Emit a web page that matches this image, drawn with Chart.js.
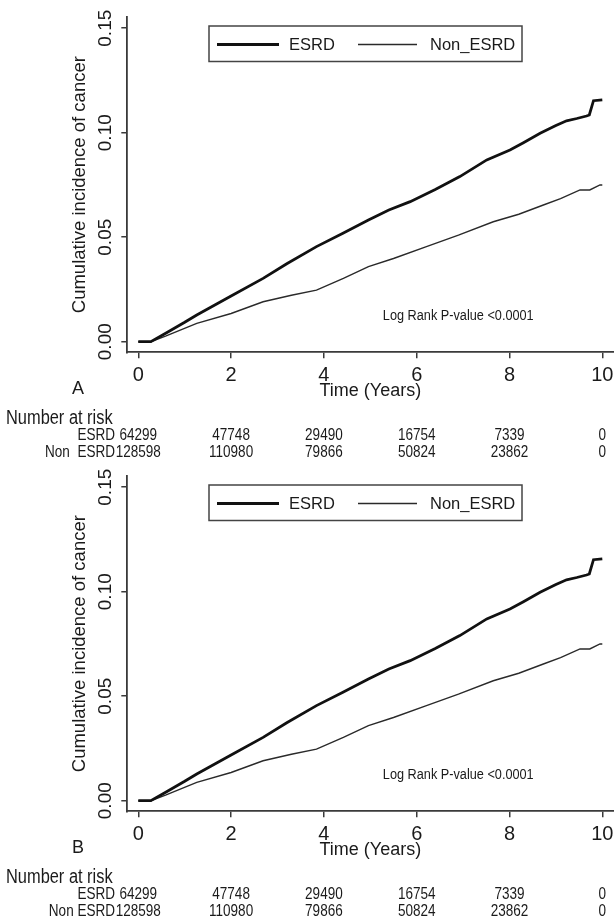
<!DOCTYPE html>
<html>
<head>
<meta charset="utf-8">
<script src="https://cdn.jsdelivr.net/npm/chart.js@4.4.1/dist/chart.umd.min.js"></script>
<style>
  html, body { margin: 0; padding: 0; background: #fff; }
  .panel { position: absolute; left: 0; width: 614px; height: 459px; }
</style>
</head>
<body>
<div class="panel" style="top:0"><canvas id="panelA" width="614" height="459"></canvas></div>
<div class="panel" style="top:459px"><canvas id="panelB" width="614" height="459"></canvas></div>
<script>
// ---- data ----
const esrdTimes  = [0, 0.27, 0.6, 1.0, 1.26, 2.0, 2.69, 3.2, 3.84, 4.4, 4.96, 5.4, 5.86, 6.4, 6.93, 7.51, 8.01, 8.3, 8.66, 9.0, 9.23, 9.45, 9.66, 9.72, 9.81, 10.0];
const esrdValues = [0, 0, 0.0042, 0.0093, 0.0128, 0.0219, 0.0303, 0.0373, 0.0455, 0.0518, 0.0582, 0.063, 0.067, 0.0728, 0.079, 0.087, 0.0917, 0.0952, 0.0997, 0.1034, 0.1057, 0.1068, 0.108, 0.1085, 0.1153, 0.1157];

const nonTimes  = [0, 0.27, 0.6, 1.26, 2.0, 2.69, 3.3, 3.84, 4.42, 4.96, 5.5, 6.21, 6.9, 7.65, 8.2, 8.73, 9.1, 9.52, 9.73, 9.95, 10.0];
const nonValues = [0, 0, 0.0028, 0.0088, 0.0135, 0.0191, 0.0222, 0.0247, 0.0303, 0.0359, 0.0398, 0.0455, 0.051, 0.0574, 0.061, 0.0654, 0.0685, 0.0726, 0.0726, 0.075, 0.075];

const seriesLabels = ['ESRD', 'Non_ESRD'];
const xTicks = [0, 2, 4, 6, 8, 10];
const yTicks = [0, 0.05, 0.10, 0.15];

const riskTimes = [0, 2, 4, 6, 8, 10];
const esrdRisk  = [64299, 47748, 29490, 16754, 7339, 0];
const nonRisk   = [128598, 110980, 79866, 50824, 23862, 0];
const riskLabelsA = ['ESRD', 'Non_ESRD'];
const riskLabelsB = ['ESRD', 'Non ESRD'];

const pValueText = 'Log Rank P-value <0.0001';

// ---- styling ----
const REGULAR = "'Liberation Sans', Arial, sans-serif";
const INK  = '#1a1a1a';
const AXIS = '#3a3a3a';

const toPoints = (xs, ys) => xs.map((t, i) => ({ x: t, y: ys[i] }));

// arial-narrow look: squeeze regular text horizontally
function narrowText(ctx, text, x, y, align, size) {
  ctx.save();
  ctx.translate(x, y);
  ctx.scale(0.82, 1);
  ctx.font = size + 'px ' + REGULAR;
  ctx.textAlign = align;
  ctx.textBaseline = 'middle';
  ctx.fillStyle = INK;
  ctx.fillText(text, 0, 0);
  ctx.restore();
}

// legend box, panel letter, p-value and number-at-risk table
const extrasPlugin = {
  id: 'extras',
  afterDraw(chart, args, opts) {
    const ctx = chart.ctx;
    const sx = chart.scales.x, sy = chart.scales.y;
    ctx.save();

    // legend
    ctx.strokeStyle = '#444';
    ctx.lineWidth = 1.5;
    ctx.strokeRect(209, 26, 313, 35.5);
    const sampleX = [[217, 279], [358, 417]];
    const textX = [289, 430];
    ctx.font = '16.5px ' + REGULAR;
    ctx.textBaseline = 'middle';
    ctx.textAlign = 'left';
    chart.data.datasets.forEach((ds, i) => {
      ctx.strokeStyle = ds.borderColor;
      ctx.lineWidth = ds.borderWidth;
      ctx.beginPath();
      ctx.moveTo(sampleX[i][0], 44.5);
      ctx.lineTo(sampleX[i][1], 44.5);
      ctx.stroke();
      ctx.fillStyle = INK;
      ctx.fillText(ds.label, textX[i], 45);
    });

    // panel letter
    ctx.font = '18px ' + REGULAR;
    ctx.textAlign = 'center';
    ctx.fillStyle = INK;
    ctx.fillText(opts.letter, 78, 389);
    ctx.restore();

    // p-value
    narrowText(ctx, pValueText, sx.getPixelForValue(5.27), sy.getPixelForValue(0.0123), 'left', 15.5);

    // number at risk
    narrowText(ctx, 'Number at risk', 6, 418, 'left', 20);
    const rows = [esrdRisk, nonRisk];
    const rowY = [435, 452];
    rows.forEach((vals, r) => {
      narrowText(ctx, opts.riskLabels[r], 115, rowY[r], 'right', 16.5);
      vals.forEach((v, i) => narrowText(ctx, String(v), sx.getPixelForValue(riskTimes[i]), rowY[r], 'center', 16.5));
    });
  }
};

function makePanel(id, letter, riskLabels) {
  return new Chart(document.getElementById(id), {
    type: 'line',
    data: {
      datasets: [
        { label: seriesLabels[0], data: toPoints(esrdTimes, esrdValues), borderColor: '#111', borderWidth: 2.8 },
        { label: seriesLabels[1], data: toPoints(nonTimes, nonValues), borderColor: '#2a2a2a', borderWidth: 1.4 }
      ]
    },
    options: {
      responsive: false,
      animation: false,
      devicePixelRatio: 1,
      layout: { padding: { top: 17, left: 0, right: 0.7, bottom: 56.7 } },
      elements: { point: { radius: 0 }, line: { tension: 0, borderCapStyle: 'butt' } },
      plugins: { legend: { display: false }, tooltip: { enabled: false }, extras: { letter, riskLabels } },
      scales: {
        x: {
          type: 'linear',
          min: -0.237, max: 10.237,
          afterBuildTicks: s => { s.ticks = xTicks.map(v => ({ value: v })); },
          afterFit: s => { s.height = 50; s.paddingLeft = 0; s.paddingRight = 0; },
          grid: { drawOnChartArea: false, drawTicks: true, tickLength: 6, color: AXIS, lineWidth: 1.5 },
          border: { display: true, color: AXIS, width: 1.8 },
          ticks: { autoSkip: false, maxRotation: 0, padding: 5, color: INK,
                   font: { family: REGULAR, size: 20 }, callback: v => String(v) },
          title: { display: true, text: 'Time (Years)', color: INK, padding: { top: 0, bottom: 0 },
                   font: { family: REGULAR, size: 18 } }
        },
        y: {
          type: 'linear',
          min: -0.00507, max: 0.15536,
          afterBuildTicks: s => { s.ticks = yTicks.map(v => ({ value: v })); },
          afterFit: s => { s.width = 127.3; s.paddingTop = 0; s.paddingBottom = 0; },
          grid: { drawOnChartArea: false, drawTicks: true, tickLength: 6, color: AXIS, lineWidth: 1.5 },
          border: { display: true, color: AXIS, width: 1.8 },
          ticks: { autoSkip: false, minRotation: 90, maxRotation: 90, crossAlign: 'center', padding: -3,
                   color: INK, font: { family: REGULAR, size: 19 }, callback: v => v.toFixed(2) },
          title: { display: true, text: 'Cumulative incidence of cancer', color: INK,
                   padding: { top: 69, bottom: 0 }, font: { family: REGULAR, size: 18.5 } }
        }
      }
    },
    plugins: [extrasPlugin]
  });
}

makePanel('panelA', 'A', riskLabelsA);
makePanel('panelB', 'B', riskLabelsB);
</script>
</body>
</html>
